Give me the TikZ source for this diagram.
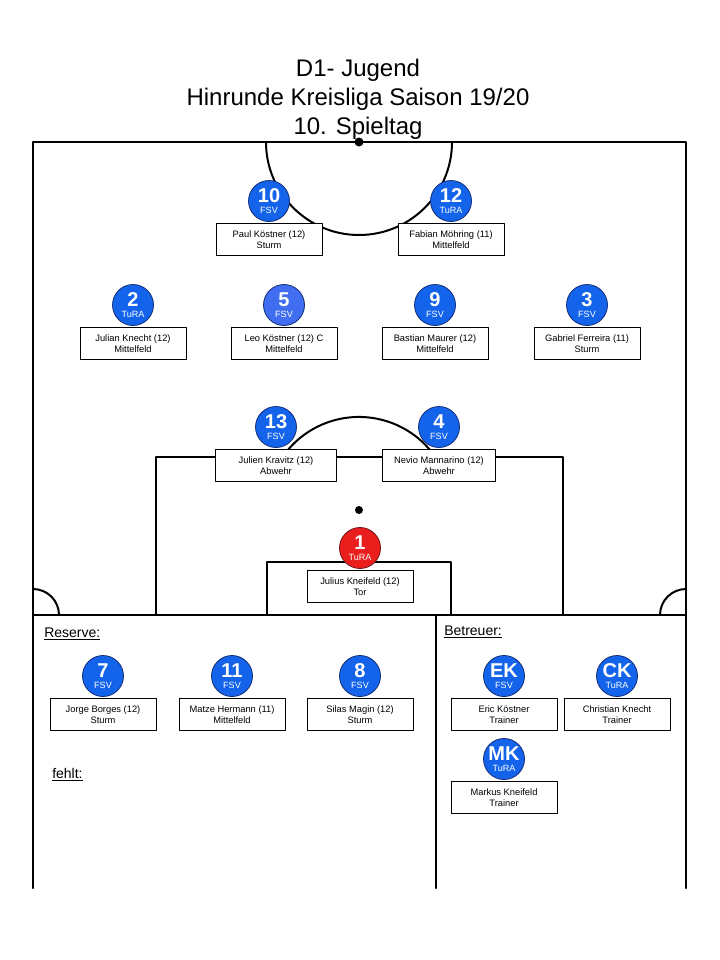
\documentclass[tikz,border=0pt]{standalone}
\usepackage{fontspec}
\setmainfont{Liberation Sans}
\usetikzlibrary{positioning}
\definecolor{clubblue}{RGB}{20,100,235}
\definecolor{captainblue}{RGB}{65,110,240}
\definecolor{rimblue}{RGB}{20,45,120}
\definecolor{keeperred}{RGB}{235,30,30}
\definecolor{rimred}{RGB}{120,20,20}
\begin{document}
\begin{tikzpicture}[x=0.75pt,y=-0.75pt,line join=round,line cap=round,
	pitch/.style={line width=1.5pt},
	player/.style={circle,draw=rimblue,fill=clubblue,line width=0.6pt,minimum size=30.75pt,inner sep=0pt},
	keeper/.style={player,draw=rimred,fill=keeperred},
	num/.style={text=white,inner sep=0pt,yshift=4.3pt,font=\fontsize{15}{15}\bfseries},
	team/.style={text=white,inner sep=0pt,yshift=-6.8pt,font=\fontsize{6.8}{7}\selectfont},
	namebox/.style={draw,fill=white,line width=0.6pt,minimum width=79.5pt,minimum height=24pt,inner sep=0pt,align=center,font=\fontsize{7}{8.25}\selectfont},
	heading/.style={inner sep=0pt,anchor=base,font=\fontsize{18}{20}\selectfont},
	section/.style={inner sep=0pt,anchor=base west,font=\fontsize{10.5}{12}\selectfont}]
	\useasboundingbox (0,0) rectangle (720,960);
	\node[heading] (t1) at (358,76) {D1- Jugend};
	\node[heading] (t2) at (358,105) {Hinrunde Kreisliga Saison 19/20};
	\node[heading] (t3) at (358,134) {10. Spieltag};
	\draw[pitch] (33,142) rectangle (686,615);
	\draw[pitch] (266,142) arc[start angle=180,end angle=0,radius=93];
	\draw[pitch] (156,615)--(156,457)--(563,457)--(563,615);
	\draw[pitch] (267,615)--(267,562)--(451,562)--(451,615);
	\draw[pitch] (282.5,457) arc[start angle=214.7,end angle=325.3,radius=93];
	\draw[pitch] (33,589) arc[start angle=270,end angle=360,radius=26];
	\draw[pitch] (660,615) arc[start angle=180,end angle=270,radius=26];
	\fill (359,142) circle[radius=4.5];
	\fill (359,510) circle[radius=4];
	\draw[pitch] (33,615)--(33,888) (436,615)--(436,888) (686,615)--(686,888);
	\node[section] (res) at (44,637) {\underline{Reserve:}};
	\node[section] (miss) at (52,778) {\underline{fehlt:}};
	\node[section] (staff) at (444,635) {\underline{Betreuer:}};
	\node[player,label={[num]center:10},label={[team]center:FSV}] (p10) at (269,201) {};
	\node[namebox,below=0.75pt of p10] (b10) {Paul Köstner (12)\\Sturm};
	\node[player,label={[num]center:12},label={[team]center:TuRA}] (p12) at (451,201) {};
	\node[namebox,below=0.75pt of p12] (b12) {Fabian Möhring (11)\\Mittelfeld};
	\node[player,label={[num]center:2},label={[team]center:TuRA}] (p2) at (133,305) {};
	\node[namebox,below=0.75pt of p2] (b2) {Julian Knecht (12)\\Mittelfeld};
	\node[player,fill=captainblue,label={[num]center:5},label={[team]center:FSV}] (p5) at (284,305) {};
	\node[namebox,below=0.75pt of p5] (b5) {Leo Köstner (12) C\\Mittelfeld};
	\node[player,label={[num]center:9},label={[team]center:FSV}] (p9) at (435,305) {};
	\node[namebox,below=0.75pt of p9] (b9) {Bastian Maurer (12)\\Mittelfeld};
	\node[player,label={[num]center:3},label={[team]center:FSV}] (p3) at (587,305) {};
	\node[namebox,below=0.75pt of p3] (b3) {Gabriel Ferreira (11)\\Sturm};
	\node[player,label={[num]center:13},label={[team]center:FSV}] (p13) at (276,427) {};
	\node[namebox,minimum width=90.75pt,below=0.75pt of p13] (b13) {Julien Kravitz (12)\\Abwehr};
	\node[player,label={[num]center:4},label={[team]center:FSV}] (p4) at (439,427) {};
	\node[namebox,minimum width=84.75pt,below=0.75pt of p4] (b4) {Nevio Mannarino (12)\\Abwehr};
	\node[keeper,label={[num]center:1},label={[team]center:TuRA}] (p1) at (360,548) {};
	\node[namebox,below=0.75pt of p1] (b1) {Julius Kneifeld (12)\\Tor};
	\node[player,label={[num]center:7},label={[team]center:FSV}] (r7) at (103,676) {};
	\node[namebox,below=0.75pt of r7] (c7) {Jorge Borges (12)\\Sturm};
	\node[player,label={[num]center:11},label={[team]center:FSV}] (r11) at (232,676) {};
	\node[namebox,below=0.75pt of r11] (c11) {Matze Hermann (11)\\Mittelfeld};
	\node[player,label={[num]center:8},label={[team]center:FSV}] (r8) at (360,676) {};
	\node[namebox,below=0.75pt of r8] (c8) {Silas Magin (12)\\Sturm};
	\node[player,label={[num]center:EK},label={[team]center:FSV}] (ek) at (504,676) {};
	\node[namebox,below=0.75pt of ek] (bek) {Eric Köstner\\Trainer};
	\node[player,label={[num]center:CK},label={[team]center:TuRA}] (ck) at (617,676) {};
	\node[namebox,below=0.75pt of ck] (bck) {Christian Knecht\\Trainer};
	\node[player,label={[num]center:MK},label={[team]center:TuRA}] (mk) at (504,759) {};
	\node[namebox,below=0.75pt of mk] (bmk) {Markus Kneifeld\\Trainer};
\end{tikzpicture}
\end{document}
